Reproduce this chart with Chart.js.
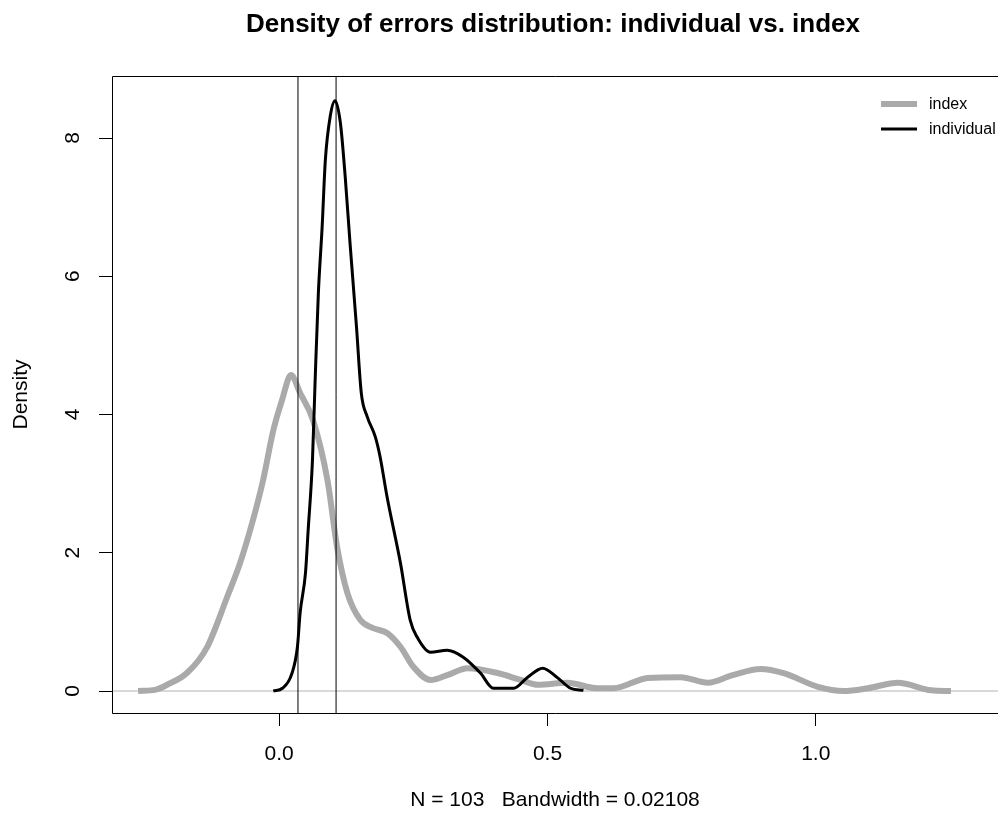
<!DOCTYPE html>
<html>
<head>
<meta charset="utf-8">
<script src="https://cdn.jsdelivr.net/npm/chart.js@4"></script>
<style>
html, body { margin: 0; padding: 0; background: #fff; }
</style>
</head>
<body>
<canvas id="densityChart" width="998" height="819"></canvas>
<script>
// density curves
var indexX = [-0.263, -0.230, -0.209, -0.172, -0.134, -0.097, -0.073, -0.049, -0.030, -0.011, 0.005, 0.022, 0.039, 0.063, 0.090, 0.108, 0.127, 0.151, 0.175, 0.201, 0.226, 0.250, 0.282, 0.313, 0.351, 0.407, 0.450, 0.482, 0.537, 0.593, 0.623, 0.687, 0.748, 0.799, 0.845, 0.897, 0.940, 1.004, 1.052, 1.097, 1.153, 1.215, 1.252];
var indexY = [0.00, 0.02, 0.09, 0.26, 0.64, 1.36, 1.85, 2.47, 3.05, 3.77, 4.20, 4.57, 4.31, 3.92, 3.05, 2.08, 1.42, 1.03, 0.91, 0.84, 0.64, 0.35, 0.16, 0.23, 0.33, 0.26, 0.16, 0.09, 0.12, 0.04, 0.04, 0.19, 0.20, 0.12, 0.23, 0.32, 0.26, 0.06, 0.00, 0.04, 0.12, 0.01, 0.00];

var individualX = [-0.011, 0.006, 0.024, 0.034, 0.039, 0.049, 0.054, 0.062, 0.067, 0.073, 0.080, 0.086, 0.095, 0.104, 0.114, 0.123, 0.132, 0.144, 0.153, 0.164, 0.179, 0.188, 0.201, 0.226, 0.244, 0.257, 0.282, 0.313, 0.343, 0.375, 0.399, 0.437, 0.463, 0.491, 0.519, 0.543, 0.567];
var individualY = [0.00, 0.04, 0.26, 0.64, 1.13, 1.71, 2.33, 3.34, 4.50, 5.76, 6.71, 7.68, 8.31, 8.54, 8.22, 7.44, 6.48, 5.27, 4.31, 3.97, 3.68, 3.39, 2.81, 1.85, 1.03, 0.78, 0.56, 0.59, 0.49, 0.26, 0.04, 0.04, 0.20, 0.33, 0.19, 0.04, 0.01];

var seriesNames = ["index", "individual"];
var meanLines = [0.035, 0.106];

var xTicks = [0, 0.5, 1.0];
var yTicks = [0, 2, 4, 6, 8];

var FONT = "'Liberation Sans', Arial, sans-serif";

function pts(xs, ys) {
    return xs.map(function(x, i) { return { x: x, y: ys[i] }; });
}

var datasets = [
    {
        label: "zero",
        data: [{ x: -1, y: 0 }, { x: 2, y: 0 }],
        borderColor: "#b4b4b4",
        borderWidth: 1,
        pointRadius: 0,
        order: 5
    },
    {
        label: seriesNames[0],
        data: pts(indexX, indexY),
        borderColor: "#aaaaaa",
        borderWidth: 6,
        pointRadius: 0,
        cubicInterpolationMode: "monotone",
        order: 3
    },
    {
        label: seriesNames[1],
        data: pts(individualX, individualY),
        borderColor: "#000000",
        borderWidth: 3,
        pointRadius: 0,
        cubicInterpolationMode: "monotone",
        order: 2
    }
];
meanLines.forEach(function(v) {
    datasets.push({
        label: "mean",
        data: [{ x: v, y: -1 }, { x: v, y: 10 }],
        borderColor: "#000000",
        borderWidth: 1,
        pointRadius: 0,
        order: 1
    });
});

// R-style decorations: box, titles, rotated y labels, legend
var rStyle = {
    id: "rStyle",
    afterDraw: function(chart) {
        var ctx = chart.ctx;
        var a = chart.chartArea;
        var ys = chart.scales.y;
        ctx.save();
        ctx.strokeStyle = "#000";
        ctx.lineWidth = 1;
        ctx.beginPath();
        ctx.moveTo(998, a.top + 0.5);
        ctx.lineTo(a.left + 0.5, a.top + 0.5);
        ctx.lineTo(a.left + 0.5, a.bottom + 0.5);
        ctx.lineTo(998, a.bottom + 0.5);
        ctx.stroke();

        ctx.fillStyle = "#000";
        ctx.textAlign = "center";
        ctx.textBaseline = "middle";

        ctx.font = "bold 26px " + FONT;
        ctx.fillText("Density of errors distribution: individual vs. index", 553, 25);

        ctx.font = "21px " + FONT;
        ctx.fillText("N = 103   Bandwidth = 0.02108", 555, 800);

        ctx.save();
        ctx.translate(21, (a.top + a.bottom) / 2);
        ctx.rotate(-Math.PI / 2);
        ctx.fillText("Density", 0, 0);
        ctx.restore();

        yTicks.forEach(function(v) {
            ctx.save();
            ctx.translate(73, ys.getPixelForValue(v));
            ctx.rotate(-Math.PI / 2);
            ctx.fillText(String(v), 0, 0);
            ctx.restore();
        });

        // legend
        ctx.font = "16px " + FONT;
        ctx.textAlign = "left";
        var rows = [chart.data.datasets[1], chart.data.datasets[2]];
        rows.forEach(function(ds, i) {
            var yy = 104 + i * 25;
            ctx.strokeStyle = ds.borderColor;
            ctx.lineWidth = ds.borderWidth;
            ctx.beginPath();
            ctx.moveTo(881, yy);
            ctx.lineTo(917, yy);
            ctx.stroke();
            ctx.fillText(ds.label, 929, yy + 1);
        });
        ctx.restore();
    }
};

new Chart(document.getElementById("densityChart"), {
    type: "line",
    data: { datasets: datasets },
    options: {
        responsive: false,
        animation: false,
        events: [],
        layout: { padding: { top: 76, right: 0, left: 0, bottom: 0 } },
        plugins: {
            legend: { display: false },
            tooltip: { enabled: false }
        },
        scales: {
            x: {
                type: "linear",
                min: -0.3116,
                max: 1.3396,
                afterBuildTicks: function(s) {
                    s.ticks = xTicks.map(function(v) { return { value: v }; });
                },
                afterFit: function(s) { s.height = 106; },
                grid: { display: true, drawOnChartArea: false, drawTicks: true, tickLength: 13, color: "#000", lineWidth: 1 },
                border: { display: false },
                ticks: {
                    padding: 16,
                    color: "#000",
                    font: { family: FONT, size: 21 },
                    maxRotation: 0,
                    callback: function(v) { return Number(v).toFixed(1); }
                }
            },
            y: {
                type: "linear",
                min: -0.318,
                max: 8.897,
                afterBuildTicks: function(s) {
                    s.ticks = yTicks.map(function(v) { return { value: v }; });
                },
                afterFit: function(s) { s.width = 112; },
                grid: { display: true, drawOnChartArea: false, drawTicks: true, tickLength: 13, color: "#000", lineWidth: 1 },
                border: { display: false },
                ticks: { display: false }
            }
        }
    },
    plugins: [rStyle]
});
</script>
</body>
</html>
